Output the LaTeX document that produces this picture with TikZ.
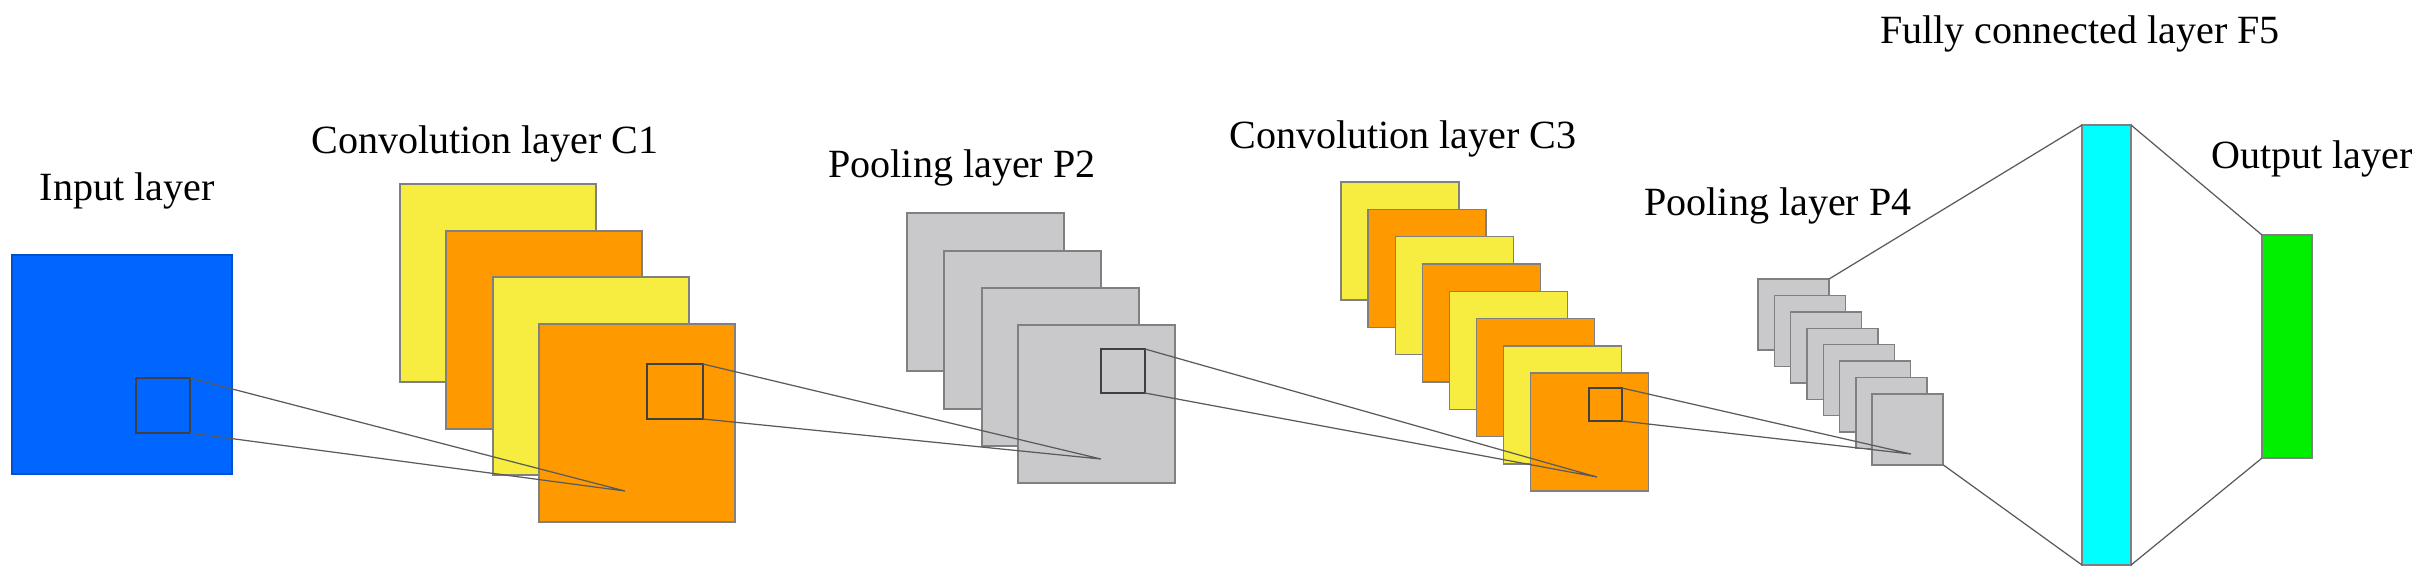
\documentclass[tikz,border=0pt]{standalone}
\usepackage{fontspec}
\setmainfont{Liberation Serif}
\definecolor{inblue}{RGB}{0,102,255}
\definecolor{cyel}{RGB}{247,237,64}
\definecolor{corange}{RGB}{255,153,0}
\definecolor{pgray}{RGB}{201,201,204}
\definecolor{fccyan}{RGB}{0,255,255}
\definecolor{outgreen}{RGB}{0,240,0}
\definecolor{edgegray}{RGB}{128,128,128}
\definecolor{linegray}{RGB}{90,90,90}
\begin{document}
\begin{tikzpicture}[x=0.1mm,y=-0.1mm,
  fmap/.style={draw=edgegray, line width=0.4pt, inner sep=0pt, outer sep=0pt, anchor=north west, rectangle},
  win/.style={draw=black!75, line width=0.4pt, inner sep=0pt, outer sep=0pt, anchor=north west, rectangle, fill=none},
  conn/.style={draw=linegray, line width=0.35pt},
  lbl/.style={anchor=base, inner sep=0pt, font=\fontsize{11.4}{13}\selectfont}]
\useasboundingbox[fill=white] (0,0) rectangle (2423,584);

% labels
\node[lbl] (lin)  at (127,200)  {Input layer};
\node[lbl] (lc1)  at (485,153)  {Convolution layer C1};
\node[lbl] (lp2)  at (962,177)  {Pooling layer P2};
\node[lbl] (lc3)  at (1403,148) {Convolution layer C3};
\node[lbl] (lp4)  at (1778,215) {Pooling layer P4};
\node[lbl] (lf5)  at (2080,43)  {Fully connected layer F5};
\node[lbl] (lout) at (2312,168) {Output layer};

% input layer
\node[fmap, fill=inblue, draw=inblue!80!black, minimum width=22mm, minimum height=21.9mm] (in) at (12,255) {};
\node[win, minimum width=5.4mm, minimum height=5.5mm] (s0) at (136,378) {};

% C1
\node[fmap, fill=cyel,    minimum width=19.6mm, minimum height=19.8mm] (c1a) at (400,184) {};
\node[fmap, fill=corange, minimum width=19.6mm, minimum height=19.8mm] (c1b) at (446,231) {};
\node[fmap, fill=cyel,    minimum width=19.6mm, minimum height=19.8mm] (c1c) at (493,277) {};
\node[fmap, fill=corange, minimum width=19.6mm, minimum height=19.8mm] (c1d) at (539,324) {};
\node[win, minimum width=5.6mm, minimum height=5.5mm] (s1) at (647,364) {};
\coordinate (t1) at (625,491);

% P2
\node[fmap, fill=pgray, minimum width=15.7mm, minimum height=15.8mm] (p2a) at (907,213) {};
\node[fmap, fill=pgray, minimum width=15.7mm, minimum height=15.8mm] (p2b) at (944,251) {};
\node[fmap, fill=pgray, minimum width=15.7mm, minimum height=15.8mm] (p2c) at (982,288) {};
\node[fmap, fill=pgray, minimum width=15.7mm, minimum height=15.8mm] (p2d) at (1018,325) {};
\node[win, minimum width=4.4mm, minimum height=4.4mm] (s2) at (1101,349) {};
\coordinate (t2) at (1101,459);

% C3
\foreach \k/\c in {0/cyel,1/corange,2/cyel,3/corange,4/cyel,5/corange,6/cyel,7/corange}
  \node[fmap, fill=\c, minimum width=11.8mm, minimum height=11.8mm] (c3m\k) at ({1341+27.1*\k},{182+27.3*\k}) {};
\node[win, minimum width=3.3mm, minimum height=3.3mm] (s3) at (1589,388) {};
\coordinate (t3) at (1597,477);

% P4
\foreach \k in {0,...,7}
  \node[fmap, fill=pgray, minimum width=7.1mm, minimum height=7.1mm] (p4m\k) at ({1758+16.3*\k},{279+16.4*\k}) {};
\coordinate (t4) at (1911,454);

% F5 and output
\node[fmap, fill=fccyan, minimum width=4.9mm, minimum height=44mm] (fc) at (2082,125) {};
\node[fmap, fill=outgreen, minimum width=5mm, minimum height=22.3mm] (out) at (2262,235) {};

% connectors
\draw[conn] (s0.north east) -- (t1) (s0.south east) -- (t1);
\draw[conn] (s1.north east) -- (t2) (s1.south east) -- (t2);
\draw[conn] (s2.north east) -- (t3) (s2.south east) -- (t3);
\draw[conn] (s3.north east) -- (t4) (s3.south east) -- (t4);
\draw[conn] (p4m0.north east) -- (fc.north west);
\draw[conn] (p4m7.south east) -- (fc.south west);
\draw[conn] (fc.north east) -- (out.north west);
\draw[conn] (fc.south east) -- (out.south west);
\end{tikzpicture}
\end{document}
